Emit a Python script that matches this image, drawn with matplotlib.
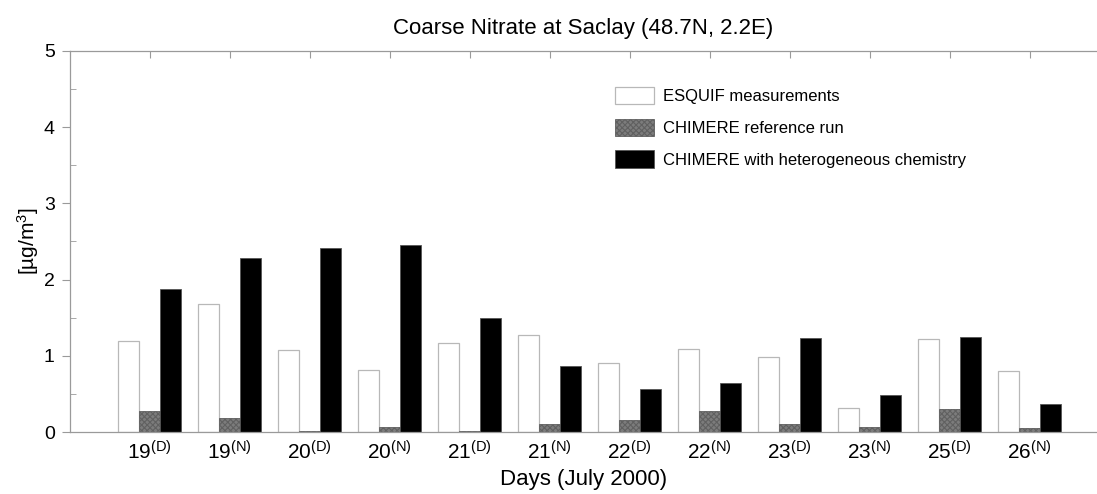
import numpy as np
import matplotlib
matplotlib.use('Agg')
import matplotlib.pyplot as plt
from matplotlib.ticker import MultipleLocator

plt.rcParams['font.family'] = ['Liberation Sans', 'DejaVu Sans']
plt.rcParams['mathtext.fontset'] = 'custom'
plt.rcParams['mathtext.rm'] = 'Liberation Sans'
plt.rcParams['mathtext.it'] = 'Liberation Sans'
plt.rcParams['hatch.linewidth'] = 0.8
plt.rcParams['hatch.color'] = '#2a2a2a'

# Data
days = ['19', '19', '20', '20', '21', '21', '22', '22', '23', '23', '25', '26']
periods = ['D', 'N', 'D', 'N', 'D', 'N', 'D', 'N', 'D', 'N', 'D', 'N']
esquif = [1.20, 1.68, 1.08, 0.82, 1.17, 1.27, 0.91, 1.09, 0.98, 0.32, 1.22, 0.80]
chimere_ref = [0.27, 0.18, 0.01, 0.07, 0.01, 0.11, 0.16, 0.28, 0.11, 0.06, 0.30, 0.05]
chimere_het = [1.88, 2.28, 2.41, 2.45, 1.49, 0.86, 0.57, 0.64, 1.24, 0.49, 1.25, 0.37]

x = np.arange(len(days))
w = 0.262
edge = '#9a9a9a'

fig = plt.figure(figsize=(10.97, 4.94), dpi=100)
ax = fig.add_axes([70 / 1097, 1 - 432 / 494, (1097 - 70) / 1097, (432 - 51) / 494])

ax.bar(x - w, esquif, w, color='white', edgecolor='#b8b8b8', linewidth=0.9,
       label='ESQUIF measurements')
ax.bar(x, chimere_ref, w, color='#7c7c7c', edgecolor='#606060', linewidth=0.6,
       hatch='xxxxxx', label='CHIMERE reference run')
ax.bar(x + w, chimere_het, w, color='black', edgecolor='#555555', linewidth=0.6,
       label='CHIMERE with heterogeneous chemistry')

ax.set_xlim(-0.996, 11.84)
ax.set_ylim(0, 5)

ax.set_xticks(x)
ax.set_xticklabels([f'{d}$^{{\\mathrm{{({p})}}}}$' for d, p in zip(days, periods)], fontsize=15)
ax.tick_params(axis='x', bottom=False, top=True, direction='in', length=5,
               color=edge, pad=6, labelbottom=True, labeltop=False)

ax.yaxis.set_major_locator(MultipleLocator(1))
ax.yaxis.set_minor_locator(MultipleLocator(0.5))
ax.tick_params(axis='y', which='major', direction='out', length=6, color=edge,
               labelsize=14, pad=5)
ax.tick_params(axis='y', which='minor', direction='in', length=4, color=edge)

for s in ['left', 'bottom', 'top']:
    ax.spines[s].set_color(edge)
    ax.spines[s].set_linewidth(0.9)
ax.spines['right'].set_visible(False)

ax.set_title('Coarse Nitrate at Saclay (48.7N, 2.2E)', fontsize=16, pad=12)
ax.set_xlabel('Days (July 2000)', fontsize=16, labelpad=4)
ax.set_ylabel('[µg/m$^3$]', fontsize=15, labelpad=2)

ax.legend(loc='upper left', bbox_to_anchor=(0.531, 0.906), frameon=False,
          fontsize=12, handlelength=2.3, handleheight=1.25, handletextpad=0.55,
          labelspacing=0.85, borderpad=0, borderaxespad=0)

fig.savefig('out.png', dpi=100)
